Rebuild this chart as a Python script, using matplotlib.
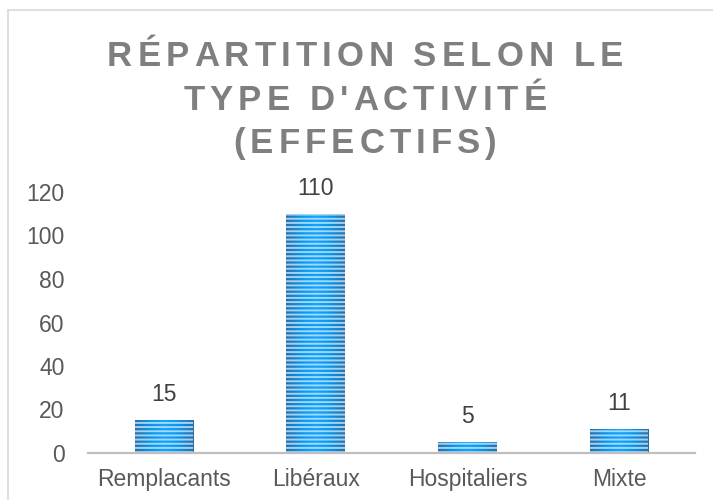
import numpy as np
import matplotlib
matplotlib.use('Agg')
import matplotlib.pyplot as plt
from matplotlib import font_manager
from matplotlib.lines import Line2D
from matplotlib.colors import LinearSegmentedColormap

#   chart data
categories = ['Remplacants', 'Libéraux', 'Hospitaliers', 'Mixte']
effectifs = [15, 110, 5, 11]
title_lines = ['RÉPARTITION SELON LE', "TYPE D'ACTIVITÉ", '(EFFECTIFS)']

plt.rcParams['font.family'] = ['Liberation Sans', 'DejaVu Sans']
plt.rcParams['hatch.color'] = '#c4e8ff'
plt.rcParams['hatch.linewidth'] = 1.4

DPI = 100
fig = plt.figure(figsize=(7.13, 5.0), dpi=DPI)
W, H = 713, 500

#   outer chart frame (only top and left edges are visible)
frame_col = '#d9d9d9'
fig.add_artist(Line2D([8 / W, 1.0], [1 - 10 / H, 1 - 10 / H], color=frame_col, lw=1.2))
fig.add_artist(Line2D([8 / W, 8 / W], [0.0, 1 - 10 / H], color=frame_col, lw=1.2))

ax = fig.add_axes([88 / W, 47 / H, 607 / W, 261 / H])
x = np.arange(len(categories))
bw = 0.387

#   gradient fill: dark at the edges, bright in the middle
cmap = LinearSegmentedColormap.from_list('bar', ['#2a6ea6', '#0b95e8', '#12a4ff', '#0b95e8', '#2a6ea6'])
grad = np.linspace(0, 1, 64).reshape(1, -1)

bars = ax.bar(x, effectifs, width=bw, color='#0b95e8', linewidth=0, zorder=2)
for b in bars:
    x0, y0 = b.get_x(), b.get_y()
    im = ax.imshow(grad, cmap=cmap, extent=[x0, x0 + b.get_width(), y0, y0 + b.get_height()],
                   aspect='auto', zorder=2.5, interpolation='bicubic')
    im.set_clip_path(b)
# horizontal stripes
ax.bar(x, effectifs, width=bw, facecolor='none', edgecolor='#c4e8ff', linewidth=0,
       hatch='----', zorder=3, alpha=0.8)

lsize = 16.5
for xi, v in zip(x, effectifs):
    ax.annotate(str(v), (xi, v), xytext=(0, 10), textcoords='offset points',
                ha='center', va='bottom', fontsize=lsize, color='#404040')

ax.set_xlim(-0.5, len(categories) - 0.5)
ax.set_ylim(0, 120)
ax.set_yticks(np.arange(0, 121, 20))
ax.set_xticks(x)
ax.set_xticklabels(categories)
ax.tick_params(axis='both', length=0, labelsize=lsize, labelcolor='#595959')
ax.tick_params(axis='y', pad=17)
ax.tick_params(axis='x', pad=11)
for s in ['top', 'right', 'left']:
    ax.spines[s].set_visible(False)
ax.spines['bottom'].set_color('#bfbfbf')
ax.spines['bottom'].set_linewidth(1.6)
ax.spines['bottom'].set_zorder(4)

#   title with letter spacing, drawn char by char
tsize = 25
tprop = font_manager.FontProperties(family='Liberation Sans', weight='bold', size=tsize)
renderer = fig.canvas.get_renderer()

def char_width(c):
    # width in pixels, spaces measured as a difference
    if c == ' ':
        w1 = renderer.get_text_width_height_descent('x x', tprop, ismath=False)[0]
        w2 = renderer.get_text_width_height_descent('xx', tprop, ismath=False)[0]
        return w1 - w2
    return renderer.get_text_width_height_descent(c, tprop, ismath=False)[0]

baselines = [66, 110, 153]
center = 365
line_w = 516  # visible width of the first line

adv0 = [char_width(c) for c in title_lines[0]]
spacing = (line_w - sum(adv0)) / (len(title_lines[0]) - 1)

for line, base in zip(title_lines, baselines):
    adv = [char_width(c) for c in line]
    total = sum(adv) + spacing * (len(line) - 1)
    xp = center - total / 2
    for c, a in zip(line, adv):
        fig.text(xp / W, 1 - base / H, c, fontproperties=tprop, color='#7f7f7f',
                 ha='left', va='baseline')
        xp += a + spacing

fig.savefig('out.png', dpi=DPI)
